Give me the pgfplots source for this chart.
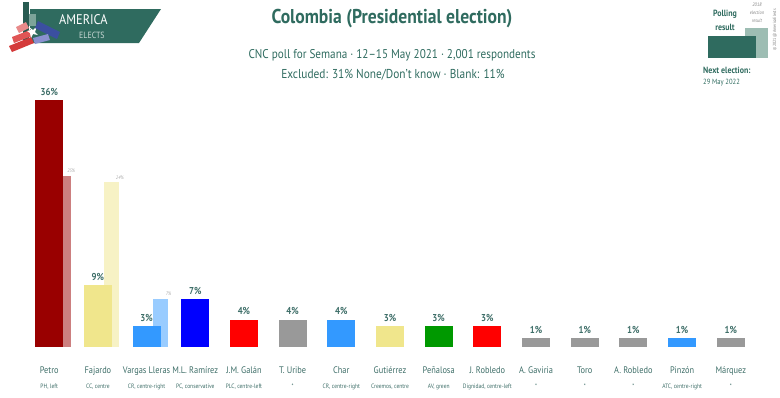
\documentclass[border=0pt]{standalone}
\usepackage{pgfplots}
\pgfplotsset{compat=1.18}
\usepackage{fontspec}
\setmainfont{PT Sans}[FakeStretch=0.88]
\definecolor{aeteal}{HTML}{2F6B5F}
\definecolor{aelab}{HTML}{3E6E68}
\definecolor{aelight}{HTML}{9DBDB3}
\definecolor{cPetro}{HTML}{990000}
\definecolor{cPetroS}{HTML}{CC7F7F}
\definecolor{cKhaki}{HTML}{F0E68C}
\definecolor{cKhakiS}{HTML}{F7F2C5}
\definecolor{cCR}{HTML}{3399FF}
\definecolor{cCRS}{HTML}{99CCFF}
\definecolor{cPC}{HTML}{0000FF}
\definecolor{cRed}{HTML}{FF0000}
\definecolor{cGray}{HTML}{999999}
\definecolor{cGreen}{HTML}{009900}
\definecolor{lgA}{HTML}{E88A8A}
\definecolor{lgB}{HTML}{E05555}
\definecolor{lgC}{HTML}{D43A3A}
\definecolor{lgD}{HTML}{3B4FA0}
\definecolor{lgE}{HTML}{8A90D0}
\begin{document}
\begin{tikzpicture}
\begin{scope}[x=1pt,y=-1pt]
\useasboundingbox (0,0) rectangle (780,397);
% logo
\fill[aeteal] (30,9) -- (161,9) -- (139,43) -- (30,43) -- cycle;
\fill[aeteal!85!black] (23,2) rectangle (29,40);
\fill[aelight!70!aeteal] (29,14) rectangle (36,26);
\fill[lgA] (16,27) -- (26,22) -- (29,28) -- (19,33) -- cycle;
\fill[lgB] (12,37) -- (30,30) -- (32,36) -- (14,43) -- cycle;
\fill[lgC] (9,46) -- (31,37) -- (34,43) -- (12,52) -- cycle;
\fill[white] (29,27) -- (33,30) -- (37,26) -- (35,32) -- (38,35) -- (33,34) -- (31,38) -- (30,33) -- (27,31) -- (31,30) -- cycle;
\fill[lgD] (38,21) -- (60,32) -- (57,39) -- (35,28) -- cycle;
\fill[lgE] (33,38) -- (48,34) -- (50,40) -- (35,44) -- cycle;
\node[white, font=\fontsize{14}{14}\selectfont, anchor=west, inner sep=0] at (59,20) {AMERICA};
\node[white!75!aeteal, font=\fontsize{9}{9}\selectfont, anchor=west, inner sep=0] at (79,35) {ELECTS};
% titles
\node[aeteal, font=\bfseries\fontsize{20}{20}\selectfont] at (392,19) {Colombia (Presidential election)};
\node[aeteal, font=\fontsize{12.7}{12.7}\selectfont] at (392,55) {CNC poll for Semana · 12–15 May 2021 · 2,001 respondents};
\node[aeteal, font=\fontsize{12.9}{12.9}\selectfont] at (393,75) {Excluded: 31\% None/Don't know · Blank: 11\%};
% right panel
\fill[aelight] (745,28) rectangle (768,58);
\fill[aeteal] (708,36) rectangle (756,58);
\node[aeteal, font=\bfseries\fontsize{9}{9}\selectfont] at (725,14) {Polling};
\node[aeteal, font=\bfseries\fontsize{9}{9}\selectfont] at (725,27) {result};
\node[gray, font=\itshape\fontsize{5}{5}\selectfont] at (757,5) {2018};
\node[gray, font=\itshape\fontsize{5}{5}\selectfont] at (757,13) {election};
\node[gray, font=\itshape\fontsize{5}{5}\selectfont] at (757,21) {result};
\node[aeteal, font=\bfseries\fontsize{9}{9}\selectfont, anchor=west, inner sep=0] at (703,70) {Next election:};
\node[aeteal, font=\fontsize{7.5}{7.5}\selectfont, anchor=west, inner sep=0] at (703,83) {29 May 2022};
\node[gray, rotate=90, font=\fontsize{4.5}{4.5}\selectfont, inner sep=0] at (775,30) {\textcopyright{} 2021 @AmericaElects};
\end{scope}
\begin{axis}[
  at={(20pt,-347pt)}, anchor=south west,
  scale only axis, width=740pt, height=274.4pt,
  xmin=-0.6, xmax=14.6, ymin=0, ymax=40,
  axis line style={draw=none},
  ytick=\empty,
  xtick={0,1,2,3,4,5,6,7,8,9,10,11,12,13,14},
  major tick length=0pt,
  clip=false,
  /pgf/number format/assume math mode=true,
  xticklabel style={anchor=north, yshift=-16pt, align=center, text=aelab, font=\fontsize{9.5}{11}\selectfont},
  xticklabels={
    {Petro\\[4pt]{\fontsize{6.3}{6.3}\selectfont PH, left}},
    {Fajardo\\[4pt]{\fontsize{6.3}{6.3}\selectfont CC, centre}},
    {Vargas Lleras\\[4pt]{\fontsize{6.3}{6.3}\selectfont CR, centre-right}},
    {M.L. Ramírez\\[4pt]{\fontsize{6.3}{6.3}\selectfont PC, conservative}},
    {J.M. Galán\\[4pt]{\fontsize{6.3}{6.3}\selectfont PLC, centre-left}},
    {T. Uribe\\[4pt]{\fontsize{6.3}{6.3}\selectfont *}},
    {Char\\[4pt]{\fontsize{6.3}{6.3}\selectfont CR, centre-right}},
    {Gutiérrez\\[4pt]{\fontsize{6.3}{6.3}\selectfont Creemos, centre}},
    {Peñalosa\\[4pt]{\fontsize{6.3}{6.3}\selectfont AV, green}},
    {J. Robledo\\[4pt]{\fontsize{6.3}{6.3}\selectfont Dignidad, centre-left}},
    {A. Gaviria\\[4pt]{\fontsize{6.3}{6.3}\selectfont *}},
    {Toro\\[4pt]{\fontsize{6.3}{6.3}\selectfont *}},
    {A. Robledo\\[4pt]{\fontsize{6.3}{6.3}\selectfont *}},
    {Pinzón\\[4pt]{\fontsize{6.3}{6.3}\selectfont ATC, centre-right}},
    {Márquez\\[4pt]{\fontsize{6.3}{6.3}\selectfont *}}
  },
  main/.style={ybar, bar width=28pt, bar shift=0pt, draw=none, fill=#1,
    nodes near coords={\pgfmathprintnumber[fixed,precision=0]{\pgfplotspointmeta}\%},
    every node near coord/.append style={text=aelab, font=\bfseries\fontsize{10}{10}\selectfont, inner sep=4.5pt}},
  sec/.style={ybar, bar width=15pt, bar shift=14pt, draw=none, fill=#1,
    nodes near coords={\pgfmathprintnumber[fixed,precision=0]{\pgfplotspointmeta}\%},
    every node near coord/.append style={text=gray!70, font=\itshape\fontsize{5}{5}\selectfont, inner sep=3pt, xshift=22pt}},
]
% 2018 election result
\addplot[sec=cPetroS] coordinates {(0,25)};
\addplot[sec=cKhakiS] coordinates {(1,24)};
\addplot[sec=cCRS] coordinates {(2,7)};
% poll
\addplot[main=cPetro] coordinates {(0,36)};
\addplot[main=cKhaki] coordinates {(1,9)};
\addplot[main=cCR] coordinates {(2,3)};
\addplot[main=cPC] coordinates {(3,7)};
\addplot[main=cRed] coordinates {(4,4)};
\addplot[main=cGray] coordinates {(5,4)};
\addplot[main=cCR] coordinates {(6,4)};
\addplot[main=cKhaki] coordinates {(7,3)};
\addplot[main=cGreen] coordinates {(8,3)};
\addplot[main=cRed] coordinates {(9,3)};
\addplot[main=cGray] coordinates {(10,1.3)};
\addplot[main=cGray] coordinates {(11,1.3)};
\addplot[main=cGray] coordinates {(12,1.3)};
\addplot[main=cCR] coordinates {(13,1.3)};
\addplot[main=cGray] coordinates {(14,1.3)};
\end{axis}
\end{tikzpicture}
\end{document}
